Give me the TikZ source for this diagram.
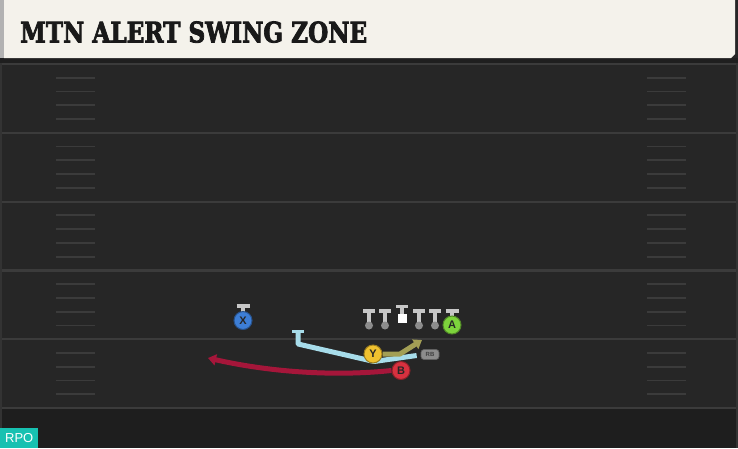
\documentclass[tikz,border=0pt]{standalone}
\usepackage{fontspec}
\setmainfont{Liberation Sans}
\newfontfamily\titlefont{DejaVu Serif}[UprightFeatures={FakeBold=3}, BoldFeatures={FakeBold=3}]
\usetikzlibrary{arrows.meta,positioning,calc}
\pgfdeclarelayer{field}
\pgfdeclarelayer{routes}
\pgfsetlayers{field,routes,main}

\definecolor{turf}{HTML}{262626}
\definecolor{endturf}{HTML}{1E1E1E}
\definecolor{yardline}{HTML}{3B3B3B}
\definecolor{banner}{HTML}{F4F2EB}
\definecolor{xblue}{HTML}{3D7ED6}
\definecolor{agreen}{HTML}{7DD33C}
\definecolor{yyellow}{HTML}{EFC12F}
\definecolor{bred}{HTML}{D7313F}
\definecolor{swingcyan}{HTML}{A7DCEA}
\definecolor{slantolive}{HTML}{A39F55}
\definecolor{wheelred}{HTML}{A5163A}
\definecolor{rpoteal}{HTML}{17C1B1}

\tikzset{
  >=Stealth,
  player/.style={circle, draw=#1!65!black, fill=#1, line width=1pt,
                 minimum size=18pt, inner sep=0pt,
                 font=\fontsize{11}{11}\selectfont\bfseries, text=black!85},
  ldot/.style={circle, fill=black!45, minimum size=8pt, inner sep=0pt},
  stem/.style={line width=4.5pt, draw=black!22},
  tbar/.style={line width=3.5pt, draw=black!22},
  route/.style={line width=5pt, line join=round},
  tip/.style={-{Triangle[length=8pt,width=11pt]}}
}

\begin{document}
\begin{tikzpicture}[x=1pt, y=-1pt,
  hash/.style={draw=yardline, line width=1.8pt},
  yard/.style={draw=yardline, line width=2.2pt},
  title/.style={anchor=south west, inner sep=0pt, text=black!90},
  rpo/.style={fill=rpoteal, text=white, anchor=south west, minimum width=38pt,
              minimum height=20pt, inner sep=0pt, font=\fontsize{13}{13}\selectfont},
  tag/.style={fill=black!45, draw=black!62, line width=0.7pt, rounded corners=3pt,
              minimum width=18pt, minimum height=10pt, inner sep=0pt,
              font=\fontsize{6}{6}\selectfont\bfseries, text=black!75}
]
\useasboundingbox (0,0) rectangle (738,448);

% field and banner
\begin{pgfonlayer}{field}
  \fill[turf] (0,0) rectangle (738,448);
  \fill[black!88] (0,58) rectangle (738,63);
  \fill[endturf] (0,409) rectangle (738,448);
  \foreach \yl in {64,132.8,201.6,270.4,339.2,408}{
    \draw[yard] (0,\yl) -- (738,\yl);
  }
  \foreach \yl in {64,132.8,201.6,270.4,339.2}{
    \foreach \k in {1,...,4}{
      \draw[hash] (56,\yl+\k*13.76) -- (95,\yl+\k*13.76);
      \draw[hash] (647,\yl+\k*13.76) -- (686,\yl+\k*13.76);
    }
  }
  \fill[black!30] (0,0) rectangle (4,58);
  \fill[banner] (4,0) -- (735,0) -- (735,54) -- (731,58) -- (4,58) -- cycle;
  \fill[black!80] (0,63) rectangle (2,448);
  \fill[black!80] (736,63) rectangle (738,448);
\end{pgfonlayer}

\node[title] (ttl) at (20,43)
  {\resizebox{347pt}{21pt}{\titlefont\bfseries MTN ALERT SWING ZONE}};

% offensive line
\foreach \x/\n in {369/lt,385/lg,419/rg,435/rt}{
  \draw[stem] (\x,324) -- (\x,312);
  \draw[tbar] (\x-6,311) -- (\x+6,311);
  \node[ldot] (\n) at (\x,325.5) {};
}
\draw[stem] (402,318) -- (402,307);
\draw[tbar] (396,306.5) -- (408,306.5);
\node[fill=white, minimum size=9pt, inner sep=0pt] (ctr) at (402,318.5) {};

% skill players
\draw[stem] (243,313) -- (243,307);
\draw[tbar] (236.5,306) -- (249.5,306);
\node[player=xblue] (x) at (243,320.5) {X};
\draw[stem] (452,317) -- (452,312);
\draw[tbar] (445.5,311) -- (458.5,311);
\node[player=agreen] (a) at (452,325) {A};
\node[player=yyellow] (y) at (373,354) {Y};
\node[player=bred] (b) at (401,370.5) {B};
\node[tag] (rb) at (430,354.5) {RB};

% routes
\coordinate (swingdip) at (374,361.5);
\coordinate (swingbend) at (298,344);
\coordinate (blockpt) at (298,331.5);
\coordinate (slantbrk) at (400,354);
\coordinate (slantend) at (422,340);
\coordinate (wheelend) at (208,358);
\begin{pgfonlayer}{routes}
  \draw[route, swingcyan] ([xshift=-4pt,yshift=-1pt]rb.west) -- (swingdip)
    -- (swingbend) -- (blockpt);
  \draw[route, swingcyan, line width=3.5pt] ([xshift=-6pt]blockpt) -- ([xshift=6pt]blockpt);
  \draw[route, slantolive, tip] (y.east) -- (slantbrk) -- (slantend);
  \draw[route, wheelred, tip] (b.west) .. controls (330,377) and (265,371) .. (wheelend);
\end{pgfonlayer}

\node[rpo] (rpotag) at (0,448) {RPO};
\end{tikzpicture}
\end{document}
